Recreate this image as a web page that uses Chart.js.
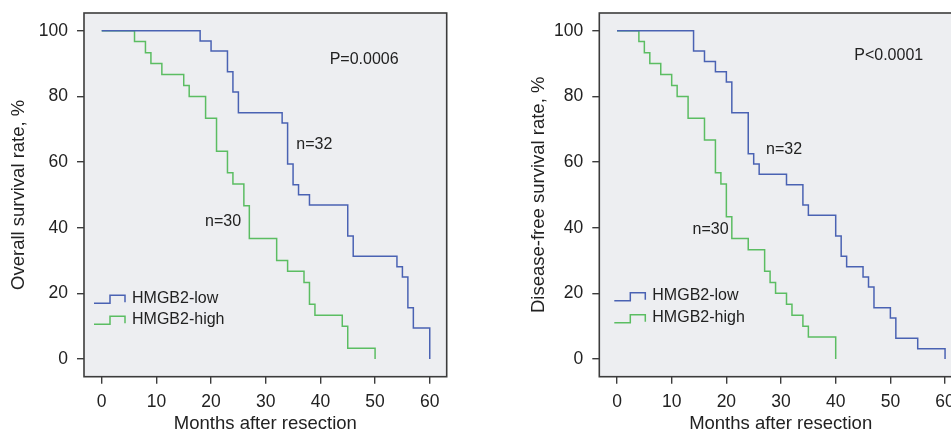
<!DOCTYPE html>
<html>
<head>
<meta charset="utf-8">
<script src="https://cdn.jsdelivr.net/npm/chart.js@4.4.1/dist/chart.umd.min.js"></script>
<style>
  html, body { margin: 0; padding: 0; background: #fff; overflow: hidden; width: 951px; height: 436px; }
  canvas { position: absolute; top: 0; }
  #osChart { left: 0; }
  #dfsChart { left: 480px; }
</style>
</head>
<body>
<canvas id="osChart" width="475" height="436"></canvas>
<canvas id="dfsChart" width="520" height="436"></canvas>
<script>
// tick labels
const xTicks = [0, 10, 20, 30, 40, 50, 60]
const yTicks = [0, 20, 40, 60, 80, 100]

// overall survival (left panel)
const osLowMonths = [0, 18, 20, 23, 24, 25, 33, 34, 35, 36, 38, 45, 46, 54, 55, 56, 57, 60]
const osLowRate = [100, 96.9, 93.8, 87.5, 81.3, 75, 71.9, 59.4, 53.1, 50, 46.9, 37.5, 31.3, 28.1, 25, 15.6, 9.4, 0]
const osHighMonths = [0, 6, 8, 9, 11, 15, 16, 19, 21, 23, 24, 26, 27, 32, 34, 37, 38, 39, 44, 45, 50]
const osHighRate = [100, 96.7, 93.3, 90, 86.7, 83.3, 80, 73.3, 63.3, 56.7, 53.3, 46.7, 36.7, 30, 26.7, 23.3, 16.7, 13.3, 10, 3.3, 0]

// disease-free survival (right panel)
const dfsLowMonths = [0, 14, 16, 18, 20, 21, 24, 25, 26, 31, 34, 35, 40, 41, 42, 45, 46, 47, 50, 51, 55, 60]
const dfsLowRate = [100, 93.8, 90.6, 87.5, 84.4, 75, 62.5, 59.4, 56.3, 53.1, 46.9, 43.8, 37.5, 31.3, 28.1, 25, 21.9, 15.6, 12.5, 6.3, 3.1, 0]
const dfsHighMonths = [0, 4, 5, 6, 8, 10, 11, 13, 16, 18, 19, 20, 21, 24, 27, 28, 29, 31, 32, 34, 35, 40]
const dfsHighRate = [100, 96.7, 93.3, 90, 86.7, 83.3, 80, 73.3, 66.7, 56.7, 53.3, 43.3, 36.7, 33.3, 26.7, 23.3, 20, 16.7, 13.3, 10, 6.7, 0]

const seriesNames = ["HMGB2-low", "HMGB2-high"]
const LOW_COLOR = "#4a62b3"
const HIGH_COLOR = "#5bbd62"
const TEXT_COLOR = "#222"
const FONT = "'Liberation Sans', Arial, Helvetica, sans-serif"

function toPoints(months, rates) {
  return months.map((m, i) => ({ x: m, y: rates[i] }))
}

// plot background, box frame, legend and the text notes
const kmDecor = {
  id: "kmDecor",
  beforeDatasetsDraw(chart) {
    const { ctx, chartArea: a } = chart
    ctx.save()
    ctx.fillStyle = "#edeef1"
    ctx.fillRect(a.left, a.top, a.right - a.left, a.bottom - a.top)
    ctx.restore()
  },
  afterDatasetsDraw(chart, args, opts) {
    const { ctx, chartArea: a, scales } = chart
    ctx.save()
    ctx.strokeStyle = "#3c3c3c"
    ctx.lineWidth = 1.6
    ctx.strokeRect(a.left, a.top, a.right - a.left, a.bottom - a.top)

    ctx.font = "16px " + FONT
    ctx.fillStyle = TEXT_COLOR
    ctx.textBaseline = "middle"
    opts.notes.forEach((n) => {
      ctx.textAlign = n.align
      ctx.fillText(n.text, scales.x.getPixelForValue(n.x), scales.y.getPixelForValue(n.y))
    })

    // legend with little step symbols
    const lg = opts.legend
    chart.data.datasets.forEach((ds, i) => {
      const x0 = a.left + lg.dx
      const yLow = lg.y[i]
      ctx.strokeStyle = ds.borderColor
      ctx.lineWidth = 1.5
      ctx.beginPath()
      ctx.moveTo(x0, yLow)
      ctx.lineTo(x0 + 16, yLow)
      ctx.lineTo(x0 + 16, yLow - 8)
      ctx.lineTo(x0 + 31, yLow - 8)
      ctx.lineTo(x0 + 31, yLow - 1)
      ctx.stroke()
      ctx.textAlign = "left"
      ctx.fillStyle = TEXT_COLOR
      ctx.fillText(ds.label, x0 + 38, yLow - 5)
    })
    ctx.restore()
  },
}

function makeChart(id, yTitle, low, high, notes, legend, geo) {
  return new Chart(document.getElementById(id), {
    type: "line",
    data: {
      datasets: [
        { label: seriesNames[0], data: low, borderColor: LOW_COLOR },
        { label: seriesNames[1], data: high, borderColor: HIGH_COLOR },
      ],
    },
    options: {
      responsive: false,
      animation: false,
      layout: { padding: geo.padding },
      elements: { point: { radius: 0 } },
      datasets: {
        line: { stepped: true, borderWidth: 1.5, fill: false, tension: 0 },
      },
      plugins: {
        legend: { display: false },
        tooltip: { enabled: false },
        kmDecor: { notes, legend },
      },
      scales: {
        x: {
          type: "linear",
          min: -3.24,
          max: 63.1,
          afterBuildTicks: (s) => { s.ticks = xTicks.map((v) => ({ value: v })) },
          afterFit: (s) => {
            s.height = geo.xAxisHeight
            s.paddingLeft = 0
            s.paddingRight = 0
          },
          grid: { display: true, drawOnChartArea: false, drawTicks: true, tickLength: 7, color: "#3c3c3c", lineWidth: 1.4 },
          border: { display: false },
          ticks: { color: TEXT_COLOR, padding: 7.5, maxRotation: 0, font: { family: FONT, size: 17.5 } },
          title: { display: true, text: "Months after resection", color: TEXT_COLOR, padding: { top: 0, bottom: 0.5 }, font: { family: FONT, size: 18.5 } },
        },
        y: {
          min: -5.4,
          max: 105.4,
          afterBuildTicks: (s) => { s.ticks = yTicks.map((v) => ({ value: v })) },
          afterFit: (s) => {
            s.width = geo.yAxisWidth
            s.paddingTop = 0
            s.paddingBottom = 0
          },
          grid: { display: true, drawOnChartArea: false, drawTicks: true, tickLength: 7, color: "#3c3c3c", lineWidth: 1.4 },
          border: { display: false },
          ticks: { color: TEXT_COLOR, padding: 9, font: { family: FONT, size: 17.5 } },
          title: { display: true, text: yTitle, color: TEXT_COLOR, padding: { top: 7.4, bottom: 0 }, font: { family: FONT, size: 18.5 } },
        },
      },
    },
    plugins: [kmDecor],
  })
}

makeChart(
  "osChart",
  "Overall survival rate, %",
  toPoints(osLowMonths, osLowRate),
  toPoints(osHighMonths, osHighRate),
  [
    { text: "P=0.0006", x: 48, y: 91.1, align: "center" },
    { text: "n=32", x: 35.6, y: 65.4, align: "left" },
    { text: "n=30", x: 25.5, y: 42, align: "right" },
  ],
  { dx: 10, y: [303.3, 324.3] },
  { padding: { left: 0, top: 13, right: 28.3, bottom: 0 }, yAxisWidth: 84, xAxisHeight: 59.3 }
)

makeChart(
  "dfsChart",
  "Disease-free survival rate, %",
  toPoints(dfsLowMonths, dfsLowRate),
  toPoints(dfsHighMonths, dfsHighRate),
  [
    { text: "P<0.0001", x: 49.7, y: 92.3, align: "center" },
    { text: "n=32", x: 27.25, y: 63.7, align: "left" },
    { text: "n=30", x: 20.4, y: 39.5, align: "right" },
  ],
  { dx: 15, y: [300.7, 322.7] },
  { padding: { left: 40, top: 13, right: 38, bottom: 0 }, yAxisWidth: 79.3, xAxisHeight: 59.3 }
)
</script>
</body>
</html>
